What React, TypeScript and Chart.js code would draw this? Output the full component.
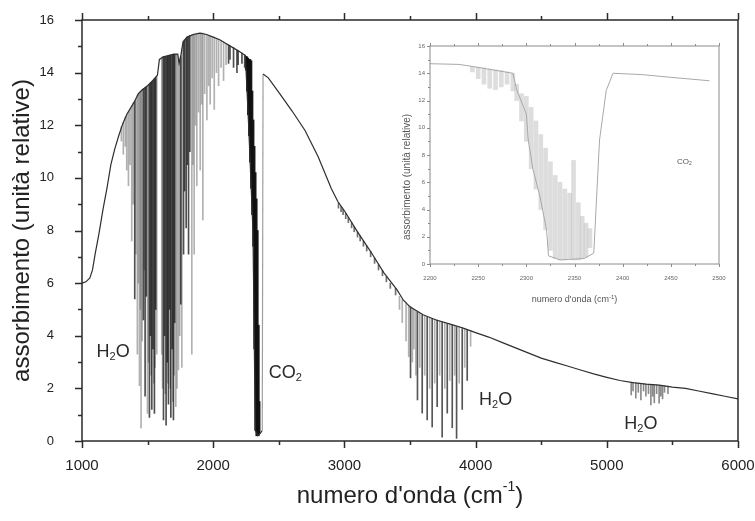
import React, { useEffect, useRef } from "react";
import { Chart, registerables } from "chart.js";

Chart.register(...registerables);

const FONT = '"Liberation Sans", Arial, Helvetica, sans-serif';

// ---------- main spectrum: continuum (wavenumber cm-1, relative absorbance) ----------
const envWavenumber = [
  1000, 1030, 1060, 1080, 1100, 1130, 1160, 1190, 1220, 1250,
  1280, 1310, 1340, 1370, 1400, 1430, 1460, 1500, 1540, 1575,
  1590, 1620, 1700, 1730, 1740, 1755, 1770, 1800, 1850, 1900,
  1950, 2000, 2050, 2100, 2150, 2200, 2245, 2270, 2303, 2321,
  2340, 2360, 2374, 2380, 2420, 2500, 2600, 2700, 2800, 2900,
  2950, 3000, 3100, 3200, 3300, 3400, 3450, 3500, 3600, 3700,
  3800, 3900, 4000, 4100, 4200, 4300, 4400, 4500, 4600, 4700,
  4800, 4900, 5000, 5100, 5200, 5300, 5400, 5500, 5600, 5700,
  5800, 5900, 6000,
];
const envAbsorbance = [
  6.0, 6.05, 6.2, 6.5, 7.1, 7.9, 8.8, 9.6, 10.5, 11.1,
  11.6, 12.05, 12.4, 12.65, 12.9, 13.2, 13.35, 13.5, 13.7, 13.9,
  14.5, 14.6, 14.7, 14.7, 14.35, 14.7, 15.15, 15.35, 15.45, 15.5,
  15.45, 15.35, 15.25, 15.1, 14.95, 14.8, 14.65, 12.0, 8.0, 0.4,
  0.2, 0.3, 0.4, 13.95, 13.8, 13.25, 12.55, 11.8, 10.8, 9.6,
  9.1, 8.75, 7.95, 7.2, 6.4, 5.75, 5.35, 5.1, 4.8, 4.6,
  4.45, 4.3, 4.12, 3.95, 3.75, 3.55, 3.35, 3.15, 3.0, 2.85,
  2.7, 2.55, 2.42, 2.3, 2.22, 2.16, 2.12, 2.05, 2.0, 1.9,
  1.8, 1.7, 1.6,
];

// absorption lines: [wavenumber, top, bottom]
const h2oBand1Dark: [number, number, number][] = [
  [1402, 12.92, 5.4], [1468, 13.38, 4.6], [1481, 13.42, 1.7], [1490, 13.46, 5.5],
  [1514, 13.55, 0.9], [1522, 13.6, 4.0], [1532, 13.65, 1.2], [1541, 13.7, 3.5],
  [1552, 13.75, 1.05], [1562, 13.8, 5.0], [1621, 14.6, 0.8], [1630, 14.6, 4.0],
  [1641, 14.6, 0.6], [1650, 14.62, 3.0], [1659, 14.63, 1.4], [1668, 14.65, 5.0],
  [1677, 14.66, 0.9], [1687, 14.68, 3.5], [1697, 14.7, 0.8], [1706, 14.7, 4.5],
  [1753, 14.6, 5.2], [1774, 15.2, 7.1], [1782, 15.25, 9.5], [1794, 15.3, 8.1],
  [1803, 15.35, 10.5], [1812, 15.38, 7.1], [1822, 15.42, 11.0], [2117, 15.05, 14.35],
  [2128, 15.02, 14.5], [2155, 14.95, 14.2], [2181, 14.86, 14.0], [2190, 14.83, 14.3],
  [2219, 14.74, 14.35], [2240, 14.67, 14.2],
];
const h2oBand1Grey: [number, number, number][] = [
  [1300, 11.95, 11.4], [1315, 12.1, 10.9], [1330, 12.3, 11.2], [1341, 12.4, 10.3],
  [1354, 12.5, 9.7], [1366, 12.6, 10.5], [1379, 12.75, 7.6], [1390, 12.85, 9.0],
  [1411, 13.0, 7.1], [1422, 13.15, 3.3], [1430, 13.2, 6.0], [1438, 13.25, 2.1],
  [1445, 13.3, 5.0], [1450, 13.3, 0.5], [1458, 13.35, 3.8], [1475, 13.4, 6.5],
  [1499, 13.5, 1.05], [1506, 13.52, 3.0], [1527, 13.62, 2.5], [1547, 13.72, 2.2],
  [1557, 13.78, 2.8], [1570, 13.85, 3.3], [1608, 14.55, 3.3], [1614, 14.6, 2.0],
  [1635, 14.6, 1.8], [1654, 14.62, 2.2], [1672, 14.65, 2.0], [1692, 14.7, 1.5],
  [1702, 14.7, 2.5], [1715, 14.7, 1.3], [1724, 14.7, 2.0], [1735, 14.5, 2.7],
  [1745, 14.45, 4.0], [1761, 14.9, 2.8], [1837, 15.45, 3.3], [1846, 15.45, 10.5],
  [1855, 15.47, 7.1], [1865, 15.48, 12.0], [1875, 15.5, 9.7], [1888, 15.5, 12.5],
  [1901, 15.5, 10.3], [1912, 15.5, 12.8], [1921, 15.5, 8.4], [1935, 15.47, 13.2],
  [1952, 15.45, 12.2], [1965, 15.42, 13.5], [1977, 15.4, 12.8], [1992, 15.38, 13.8],
  [2008, 15.35, 12.6], [2025, 15.3, 14.0], [2041, 15.27, 13.5], [2060, 15.22, 14.2],
  [2079, 15.17, 13.7], [2098, 15.1, 14.3],
];
const co2BandLines: [number, number, number][] = [
  [2250, 14.62, 14.1], [2258, 14.6, 13.3], [2266, 14.55, 12.4], [2274, 14.5, 11.6],
  [2282, 14.5, 10.6], [2290, 14.45, 9.6], [2298, 13.3, 8.6], [2306, 12.2, 7.4],
  [2314, 11.2, 3.5], [2322, 10.2, 0.4], [2330, 9.2, 0.2], [2338, 8.0, 0.2],
  [2346, 4.4, 0.2], [2352, 1.5, 0.3],
];
const continuumNotches: [number, number, number][] = [
  [2955, 9.05, 8.85], [2975, 8.92, 8.72], [2990, 8.8, 8.6], [3010, 8.65, 8.45],
  [3030, 8.5, 8.3], [3055, 8.3, 8.1], [3075, 8.15, 7.95], [3100, 7.95, 7.75],
  [3120, 7.8, 7.6], [3145, 7.6, 7.4], [3170, 7.42, 7.22], [3200, 7.2, 7.0],
  [3230, 6.95, 6.75], [3260, 6.7, 6.5], [3290, 6.48, 6.28], [3320, 6.25, 6.05],
  [3350, 6.0, 5.8], [3390, 5.8, 5.55],
];
const h2oBand2Dark: [number, number, number][] = [
  [3504, 5.1, 2.4], [3557, 4.9, 1.56], [3593, 4.8, 1.06], [3631, 4.7, 0.8],
  [3669, 4.65, 0.53], [3707, 4.6, 1.3], [3745, 4.52, 0.15], [3784, 4.45, 1.06],
  [3822, 4.4, 0.5], [3855, 4.33, 0.1], [3898, 4.27, 1.2], [3936, 4.22, 2.3],
];
const h2oBand2Grey: [number, number, number][] = [
  [3420, 5.5, 5.0], [3441, 5.38, 4.5], [3470, 5.25, 3.8], [3490, 5.17, 3.2],
  [3518, 5.05, 3.0], [3530, 5.0, 3.5], [3545, 4.95, 2.5], [3575, 4.85, 2.8],
  [3612, 4.75, 2.5], [3650, 4.68, 2.0], [3688, 4.62, 2.2], [3726, 4.56, 2.5],
  [3765, 4.5, 2.0], [3803, 4.42, 2.3], [3840, 4.36, 2.5], [3875, 4.3, 2.2],
  [3917, 4.25, 2.8], [3962, 4.2, 3.6],
];
const h2oBand3Lines: [number, number, number][] = [
  [5186, 2.22, 1.75], [5200, 2.21, 1.9], [5221, 2.2, 1.63], [5240, 2.19, 1.85],
  [5260, 2.18, 1.56], [5280, 2.17, 1.9], [5298, 2.16, 1.7], [5318, 2.15, 1.8],
  [5336, 2.14, 1.37], [5350, 2.14, 1.7], [5362, 2.13, 1.45], [5380, 2.13, 1.8],
  [5399, 2.12, 1.44], [5412, 2.12, 1.7], [5425, 2.11, 1.6], [5440, 2.1, 1.85],
  [5466, 2.09, 1.8],
];

const mainXTicks = [1000, 2000, 3000, 4000, 5000, 6000];
const mainXMinor = [1500, 2500, 3500, 4500, 5500];
const mainYTicks = [0, 2, 4, 6, 8, 10, 12, 14, 16];
const mainYMinor = [1, 3, 5, 7, 9, 11, 13, 15];

const bandLabels = [
  { formula: ["H", "2", "O"], wn: 1237, abs: 3.4 },
  { formula: ["CO", "2", ""], wn: 2550, abs: 2.6 },
  { formula: ["H", "2", "O"], wn: 4153, abs: 1.56 },
  { formula: ["H", "2", "O"], wn: 5260, abs: 0.65 },
];

// ---------- inset: CO2 band ----------
const insetWavenumber = [2200, 2230, 2244, 2286, 2290, 2300, 2302, 2307, 2314, 2321, 2323, 2335, 2360, 2370, 2376, 2383, 2390, 2420, 2450, 2490];
const insetAbsorbance = [14.7, 14.65, 14.5, 14.0, 12.8, 11.0, 9.1, 6.9, 5.0, 2.5, 0.6, 0.3, 0.4, 0.8, 9.1, 12.75, 14.0, 13.9, 13.7, 13.45];
const insetLines: [number, number, number][] = [
  [2244, 14.5, 14.1], [2250, 14.45, 13.6], [2256, 14.4, 13.2], [2262, 14.3, 12.9],
  [2268, 14.25, 12.8], [2274, 14.2, 13.0], [2280, 14.1, 13.2], [2286, 14.0, 12.7],
  [2290, 13.2, 12.0], [2295, 12.5, 10.5], [2300, 12.3, 9.0], [2305, 11.5, 7.0],
  [2310, 10.5, 5.5], [2315, 9.5, 4.0], [2320, 8.5, 2.5], [2325, 7.5, 1.0],
  [2330, 6.5, 0.4], [2335, 6.0, 0.3], [2340, 5.5, 0.3], [2345, 5.2, 0.4],
  [2349, 7.6, 0.3], [2354, 4.5, 0.3], [2358, 3.5, 0.4], [2362, 3.0, 0.5],
  [2366, 2.6, 1.2],
];
const insetXTicks = [2200, 2250, 2300, 2350, 2400, 2450, 2500];
const insetXMinor = [2225, 2275, 2325, 2375, 2425, 2475];
const insetYTicks = [0, 2, 4, 6, 8, 10, 12, 14, 16];
const insetYMinor = [1, 3, 5, 7, 9, 11, 13, 15];

// ---------- helpers ----------
type Part = { text: string; size: number; dy: number };
function drawParts(ctx: CanvasRenderingContext2D, parts: Part[], cx: number, cy: number, color: string, rotate = false) {
  ctx.save();
  ctx.fillStyle = color;
  ctx.textBaseline = "middle";
  ctx.textAlign = "left";
  let total = 0;
  const widths = parts.map((p) => {
    ctx.font = `${p.size}px ${FONT}`;
    const w = ctx.measureText(p.text).width;
    total += w;
    return w;
  });
  ctx.translate(cx, cy);
  if (rotate) ctx.rotate(-Math.PI / 2);
  let x = -total / 2;
  parts.forEach((p, i) => {
    ctx.font = `${p.size}px ${FONT}`;
    ctx.fillText(p.text, x, p.dy);
    x += widths[i];
  });
  ctx.restore();
}

function framePlugin(cfg: {
  color: string; width: number; xMajor: number[]; xMinor: number[]; yMajor: number[]; yMinor: number[];
  majorLen: number; minorLen: number;
}) {
  return {
    id: "frameTicks",
    afterDatasetsDraw(chart: any) {
      const { ctx, chartArea: a, scales } = chart;
      const xs = scales.x, ys = scales.y;
      ctx.save();
      ctx.strokeStyle = cfg.color;
      ctx.lineWidth = cfg.width;
      ctx.strokeRect(a.left, a.top, a.right - a.left, a.bottom - a.top);
      ctx.beginPath();
      const xt = (vals: number[], len: number) =>
        vals.forEach((v) => {
          const p = Math.round(xs.getPixelForValue(v)) + 0.5;
          ctx.moveTo(p, a.bottom); ctx.lineTo(p, a.bottom + len);
          ctx.moveTo(p, a.top); ctx.lineTo(p, a.top - len);
        });
      const yt = (vals: number[], len: number) =>
        vals.forEach((v) => {
          const p = Math.round(ys.getPixelForValue(v)) + 0.5;
          ctx.moveTo(a.left, p); ctx.lineTo(a.left - len, p);
        });
      xt(cfg.xMajor, cfg.majorLen); xt(cfg.xMinor, cfg.minorLen);
      yt(cfg.yMajor, cfg.majorLen); yt(cfg.yMinor, cfg.minorLen);
      ctx.stroke();
      ctx.restore();
    },
  };
}

const lineBars = (lines: [number, number, number][], color: string, thickness: number) => ({
  type: "bar" as const,
  data: lines.map(([x, top, bottom]) => ({ x, y: [bottom, top] })),
  backgroundColor: color,
  borderWidth: 0,
  barThickness: thickness,
  maxBarThickness: thickness,
  barPercentage: 1,
  categoryPercentage: 1,
  grouped: false,
});

const plainNumber = (v: any) => String(v);

function mainConfig(): any {
  const labelsPlugin = {
    id: "mainLabels",
    afterDraw(chart: any) {
      const { ctx, chartArea: a, scales } = chart;
      bandLabels.forEach((l) => {
        drawParts(ctx, [
          { text: l.formula[0], size: 18, dy: 0 },
          { text: l.formula[1], size: 11, dy: 5 },
          { text: l.formula[2], size: 18, dy: 0 },
        ], scales.x.getPixelForValue(l.wn), scales.y.getPixelForValue(l.abs), "#2a2a2a");
      });
      drawParts(ctx, [
        { text: "numero d'onda (cm", size: 24, dy: 0 },
        { text: "-1", size: 14, dy: -9 },
        { text: ")", size: 24, dy: 0 },
      ], (a.left + a.right) / 2, a.bottom + 55, "#222");
    },
  };
  return {
    type: "line",
    data: {
      datasets: [
        {
          type: "line",
          data: envWavenumber.map((x, i) => ({ x, y: envAbsorbance[i] })),
          borderColor: "#2e2e2e",
          borderWidth: 1.2,
          pointRadius: 0,
          tension: 0,
          segment: {
            borderColor: (c: any) => (c.p1.parsed.y - c.p0.parsed.y > 5 ? "#a0a0a0" : undefined),
          },
        },
        lineBars(h2oBand1Dark, "rgba(20,20,20,0.75)", 1),
        lineBars(co2BandLines, "rgba(15,15,15,0.95)", 1.5),
        lineBars(h2oBand2Dark, "rgba(30,30,30,0.75)", 1),
        lineBars(h2oBand3Lines, "rgba(60,60,60,0.6)", 1),
        lineBars(h2oBand1Grey, "rgba(100,100,100,0.5)", 1),
        lineBars(h2oBand2Grey, "rgba(100,100,100,0.5)", 1),
        lineBars(continuumNotches, "rgba(50,50,50,0.7)", 1),
      ],
    },
    options: {
      animation: false,
      responsive: false,
      events: [],
      layout: { padding: { left: 0, top: 20, right: 17, bottom: 0 } },
      plugins: { legend: { display: false }, tooltip: { enabled: false } },
      scales: {
        x: {
          type: "linear",
          min: 1000,
          max: 6000,
          offset: false,
          afterBuildTicks: (s: any) => { s.ticks = mainXTicks.map((v) => ({ value: v })); },
          afterFit: (s: any) => { s.height = 80; s.paddingLeft = 0; s.paddingRight = 0; },
          grid: { display: false, drawTicks: false },
          border: { display: false },
          ticks: { font: { size: 15, family: FONT }, color: "#222", padding: 16, maxRotation: 0, autoSkip: false, callback: plainNumber },
        },
        y: {
          type: "linear",
          min: 0,
          max: 16,
          afterBuildTicks: (s: any) => { s.ticks = mainYTicks.map((v) => ({ value: v })); },
          afterFit: (s: any) => { s.width = 82; s.paddingTop = 0; s.paddingBottom = 0; },
          grid: { display: false, drawTicks: false },
          border: { display: false },
          ticks: { font: { size: 13, family: FONT }, color: "#222", padding: 28, callback: plainNumber },
          title: {
            display: true,
            text: "assorbimento (unità relative)",
            font: { size: 24, family: FONT },
            color: "#222",
            padding: { top: 8, bottom: 0 },
          },
        },
      },
    },
    plugins: [
      framePlugin({ color: "#2a2a2a", width: 1.5, xMajor: mainXTicks, xMinor: mainXMinor, yMajor: mainYTicks, yMinor: mainYMinor, majorLen: 7, minorLen: 4 }),
      labelsPlugin,
    ],
  };
}

function insetConfig(): any {
  const labelsPlugin = {
    id: "insetLabels",
    afterDraw(chart: any) {
      const { ctx, chartArea: a, scales } = chart;
      drawParts(ctx, [
        { text: "numero d'onda (cm", size: 9, dy: 0 },
        { text: "-1", size: 6, dy: -3 },
        { text: ")", size: 9, dy: 0 },
      ], (a.left + a.right) / 2, a.bottom + 36, "#555");
      drawParts(ctx, [{ text: "assorbimento (unità relative)", size: 10, dy: 0 }], 12, a.top + 131, "#555", true);
      drawParts(ctx, [
        { text: "CO", size: 8, dy: 0 },
        { text: "2", size: 5, dy: 2 },
      ], scales.x.getPixelForValue(2464), scales.y.getPixelForValue(7.5), "#555");
    },
  };
  return {
    type: "line",
    data: {
      datasets: [
        {
          type: "line",
          data: insetWavenumber.map((x, i) => ({ x, y: insetAbsorbance[i] })),
          borderColor: "#a8a8a8",
          borderWidth: 1,
          pointRadius: 0,
          tension: 0,
        },
        lineBars(insetLines, "rgba(180,180,180,0.45)", 4),
      ],
    },
    options: {
      animation: false,
      responsive: false,
      events: [],
      layout: { padding: { left: 0, top: 16, right: 16, bottom: 0 } },
      plugins: { legend: { display: false }, tooltip: { enabled: false } },
      scales: {
        x: {
          type: "linear",
          min: 2200,
          max: 2500,
          offset: false,
          afterBuildTicks: (s: any) => { s.ticks = insetXTicks.map((v) => ({ value: v })); },
          afterFit: (s: any) => { s.height = 56; s.paddingLeft = 0; s.paddingRight = 0; },
          grid: { display: false, drawTicks: false },
          border: { display: false },
          ticks: { font: { size: 6, family: FONT }, color: "#666", padding: 11, maxRotation: 0, autoSkip: false, callback: plainNumber },
        },
        y: {
          type: "linear",
          min: 0,
          max: 16,
          afterBuildTicks: (s: any) => { s.ticks = insetYTicks.map((v) => ({ value: v })); },
          afterFit: (s: any) => { s.width = 35; s.paddingTop = 0; s.paddingBottom = 0; },
          grid: { display: false, drawTicks: false },
          border: { display: false },
          ticks: { font: { size: 6, family: FONT }, color: "#666", padding: 5, callback: plainNumber },
        },
      },
    },
    plugins: [
      framePlugin({ color: "#8c8c8c", width: 1, xMajor: insetXTicks, xMinor: insetXMinor, yMajor: insetYTicks, yMinor: insetYMinor, majorLen: 3, minorLen: 2 }),
      labelsPlugin,
    ],
  };
}

export default function App() {
  const mainRef = useRef<HTMLCanvasElement>(null);
  const insetRef = useRef<HTMLCanvasElement>(null);
  useEffect(() => {
    const main = new Chart(mainRef.current as HTMLCanvasElement, mainConfig());
    const inset = new Chart(insetRef.current as HTMLCanvasElement, insetConfig());
    return () => {
      main.destroy();
      inset.destroy();
    };
  }, []);
  return (
    <div style={{ position: "absolute", left: 0, top: 0, width: 755, height: 521, background: "#fff", overflow: "hidden" }}>
      <canvas ref={mainRef} width={755} height={521} style={{ position: "absolute", left: 0, top: 0 }} />
      <canvas ref={insetRef} width={340} height={290} style={{ position: "absolute", left: 395, top: 30 }} />
    </div>
  );
}
